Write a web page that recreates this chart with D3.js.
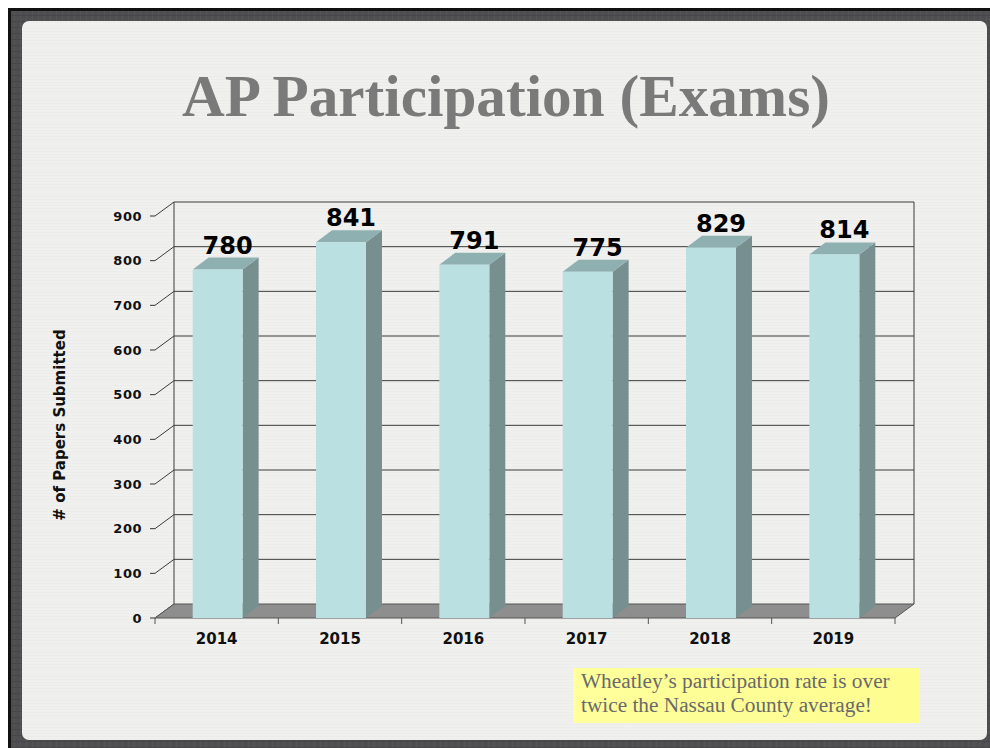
<!DOCTYPE html>
<html>
<head>
<meta charset="utf-8">
<script src="https://cdn.jsdelivr.net/npm/d3@7"></script>
<style>
  html, body { margin: 0; padding: 0; background: #fff; }
  svg { display: block; }
</style>
</head>
<body>
<div id="slide"></div>
<script>
// chart values
var years = ['2014', '2015', '2016', '2017', '2018', '2019'];
var exams = [780, 841, 791, 775, 829, 814];
var yTicks = [0, 100, 200, 300, 400, 500, 600, 700, 800, 900];

var titleText = 'AP Participation (Exams)';
var axisTitle = '# of Papers Submitted';
var noteLines = ['Wheatley\u2019s participation rate is over', 'twice the Nassau County average!'];

var width = 990, height = 748;

// depth of the 3d box (back wall offset)
var depth = { x: 19, y: -14 };
var barDepth = { x: 16, y: -12 };

var svg = d3.select('#slide').append('svg')
  .attr('width', width)
  .attr('height', height);

var defs = svg.append('defs');

// paper texture for the panel
var pat = defs.append('pattern')
  .attr('id', 'paper')
  .attr('width', 7).attr('height', 3)
  .attr('patternUnits', 'userSpaceOnUse');
pat.append('rect').attr('width', 7).attr('height', 3).attr('fill', '#f0f0ee');
pat.append('rect').attr('y', 1).attr('width', 7).attr('height', 1).attr('fill', '#ececea');

var fpat = defs.append('pattern')
  .attr('id', 'frame')
  .attr('width', 6).attr('height', 6)
  .attr('patternUnits', 'userSpaceOnUse');
fpat.append('rect').attr('width', 6).attr('height', 6).attr('fill', '#4e4e50');
fpat.append('rect').attr('x', 2).attr('width', 1).attr('height', 6).attr('fill', '#565658');
fpat.append('rect').attr('y', 3).attr('width', 6).attr('height', 1).attr('fill', '#474749');

var yel = defs.append('linearGradient')
  .attr('id', 'yel').attr('x1', 0).attr('y1', 0).attr('x2', 1).attr('y2', 0);
yel.append('stop').attr('offset', '0%').attr('stop-color', '#ffff9c');
yel.append('stop').attr('offset', '100%').attr('stop-color', '#fdfd90');

// slide frame
svg.append('rect')
  .attr('x', 8).attr('y', 8)
  .attr('width', width - 8).attr('height', height - 8)
  .attr('fill', '#111');
svg.append('rect')
  .attr('x', 11).attr('y', 11)
  .attr('width', width - 11).attr('height', height - 11)
  .attr('fill', 'url(#frame)');
svg.append('rect')
  .attr('x', 22).attr('y', 21)
  .attr('width', 965).attr('height', 719)
  .attr('rx', 7)
  .attr('fill', 'url(#paper)');

// title, sized to the slide's width for it
var title = svg.append('text')
  .attr('x', 506).attr('y', 116)
  .attr('text-anchor', 'middle')
  .style('font-family', '"Liberation Serif", "DejaVu Serif", serif')
  .style('font-weight', 'bold')
  .style('font-size', '52px')
  .attr('fill', '#7a7a7a')
  .text(titleText);
var tw = title.node().getComputedTextLength();
title.style('font-size', (52 * 648 / tw) + 'px');

// scales
var x = d3.scaleBand().domain(years).range([155, 895]);
var y = d3.scaleLinear().domain([0, 900]).range([618, 216]);

var plot = svg.append('g');
var gridColor = '#3c3c3c';

// back wall gridlines
plot.selectAll('.grid')
  .data(yTicks.filter(function(d){ return d > 0; }))
  .enter().append('line')
  .attr('class', 'grid')
  .attr('x1', x.range()[0] + depth.x)
  .attr('x2', x.range()[1] + depth.x)
  .attr('y1', function(d){ return y(d) + depth.y; })
  .attr('y2', function(d){ return y(d) + depth.y; })
  .attr('stroke', gridColor).attr('stroke-width', 1);

// left wall diagonals
plot.selectAll('.diag')
  .data(yTicks)
  .enter().append('line')
  .attr('x1', x.range()[0])
  .attr('x2', x.range()[0] + depth.x)
  .attr('y1', function(d){ return y(d); })
  .attr('y2', function(d){ return y(d) + depth.y; })
  .attr('stroke', gridColor).attr('stroke-width', 1);

// wall edges
[x.range()[0] + depth.x, x.range()[1] + depth.x].forEach(function(xx){
  plot.append('line')
    .attr('x1', xx).attr('x2', xx)
    .attr('y1', y(900) + depth.y).attr('y2', y(0) + depth.y)
    .attr('stroke', gridColor).attr('stroke-width', 1);
});

// floor
var x0 = x.range()[0], x1 = x.range()[1], yf = y(0);
plot.append('path')
  .attr('d', 'M' + x0 + ',' + yf + 'L' + x1 + ',' + yf +
    'L' + (x1 + depth.x) + ',' + (yf + depth.y) +
    'L' + (x0 + depth.x) + ',' + (yf + depth.y) + 'Z')
  .attr('fill', '#8e8e8e')
  .attr('stroke', '#555').attr('stroke-width', 1);

// y ticks
plot.selectAll('.ytick')
  .data(yTicks)
  .enter().append('line')
  .attr('x1', x0 - 5).attr('x2', x0)
  .attr('y1', function(d){ return y(d); })
  .attr('y2', function(d){ return y(d); })
  .attr('stroke', '#333');

plot.selectAll('.ylab')
  .data(yTicks)
  .enter().append('text')
  .attr('x', x0 - 13)
  .attr('y', function(d){ return y(d); })
  .attr('dy', '0.36em')
  .attr('text-anchor', 'end')
  .style('font-family', '"DejaVu Sans", Verdana, sans-serif')
  .style('font-weight', 'bold')
  .style('font-size', '13px')
  .style('letter-spacing', '0.5px')
  .attr('fill', '#111')
  .text(function(d){ return d; });

// category ticks
var bounds = years.map(function(d){ return x(d); }).concat([x1]);
plot.selectAll('.xtick')
  .data(bounds)
  .enter().append('line')
  .attr('x1', function(d){ return d; })
  .attr('x2', function(d){ return d; })
  .attr('y1', yf).attr('y2', yf + 6)
  .attr('stroke', '#555');

plot.selectAll('.xlab')
  .data(years)
  .enter().append('text')
  .attr('x', function(d){ return x(d) + x.bandwidth() / 2; })
  .attr('y', 644)
  .attr('text-anchor', 'middle')
  .style('font-family', '"DejaVu Sans", Verdana, sans-serif')
  .style('font-weight', 'bold')
  .style('font-size', '15px')
  .attr('fill', '#111')
  .text(function(d){ return d; });

// bars
var bw = x.bandwidth() * 0.405;
var bars = plot.selectAll('.bar')
  .data(years.map(function(d, i){ return { year: d, value: exams[i] }; }))
  .enter().append('g')
  .attr('class', 'bar');

function bx(d){ return x(d.year) + x.bandwidth() / 2 - bw / 2 + 1; }

bars.append('path') // side
  .attr('d', function(d){
    var l = bx(d) + bw, t = y(d.value);
    return 'M' + l + ',' + yf + 'L' + (l + barDepth.x) + ',' + (yf + barDepth.y) +
      'L' + (l + barDepth.x) + ',' + (t + barDepth.y) + 'L' + l + ',' + t + 'Z';
  })
  .attr('fill', '#778f8f');

bars.append('path') // top
  .attr('d', function(d){
    var l = bx(d), t = y(d.value);
    return 'M' + l + ',' + t + 'L' + (l + bw) + ',' + t +
      'L' + (l + bw + barDepth.x) + ',' + (t + barDepth.y) +
      'L' + (l + barDepth.x) + ',' + (t + barDepth.y) + 'Z';
  })
  .attr('fill', '#8fb0b1');

bars.append('rect') // front
  .attr('x', bx)
  .attr('y', function(d){ return y(d.value); })
  .attr('width', bw)
  .attr('height', function(d){ return yf - y(d.value); })
  .attr('fill', '#bae0e2');

bars.append('text')
  .attr('x', function(d){ return bx(d) + bw / 2 + barDepth.x / 2 + 2; })
  .attr('y', function(d){ return y(d.value) + barDepth.y - 4; })
  .attr('text-anchor', 'middle')
  .style('font-family', '"DejaVu Sans", Verdana, sans-serif')
  .style('font-weight', 'bold')
  .style('font-size', '24px')
  .attr('fill', '#000')
  .text(function(d){ return d.value; });

// axis title
svg.append('text')
  .attr('transform', 'translate(65,425) rotate(-90)')
  .attr('text-anchor', 'middle')
  .style('font-family', '"DejaVu Sans", Verdana, sans-serif')
  .style('font-weight', 'bold')
  .style('font-size', '15px')
  .attr('fill', '#111')
  .text(axisTitle);

// note box
svg.append('rect')
  .attr('x', 573).attr('y', 668)
  .attr('width', 347).attr('height', 55)
  .attr('fill', 'url(#yel)');

var note = svg.append('text')
  .style('font-family', '"Liberation Serif", "DejaVu Serif", serif')
  .style('font-size', '18px')
  .attr('fill', '#6a6a6a');
note.selectAll('tspan')
  .data(noteLines)
  .enter().append('tspan')
  .attr('x', 581)
  .attr('y', function(d, i){ return 688 + i * 24; })
  .text(function(d){ return d; });
var nw = note.select('tspan').node().getComputedTextLength();
note.style('font-size', (18 * 309 / nw) + 'px');
</script>
</body>
</html>
